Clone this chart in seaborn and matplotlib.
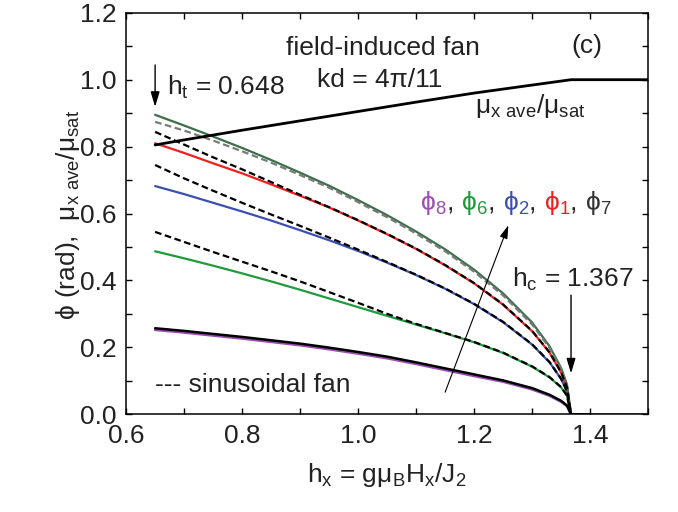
import numpy as np
import pandas as pd
import matplotlib
matplotlib.use("Agg")
import matplotlib.pyplot as plt
import seaborn as sns
from matplotlib.ticker import MultipleLocator
from matplotlib.offsetbox import TextArea, HPacker, AnnotationBbox

# ---------------- data ----------------
h = [0.65, 0.70, 0.75, 0.80, 0.85, 0.90, 0.95, 1.00, 1.05, 1.10, 1.15,
     1.20, 1.25, 1.30, 1.33, 1.35, 1.36, 1.367]

phi7 = [0.895, 0.863, 0.830, 0.796, 0.760, 0.722, 0.683, 0.640, 0.595, 0.546,
        0.493, 0.432, 0.361, 0.274, 0.203, 0.138, 0.089, 0.0]
phi7_sin = [0.874, 0.848, 0.818, 0.786, 0.752, 0.715, 0.677, 0.634, 0.589, 0.540,
            0.487, 0.426, 0.355, 0.268, 0.198, 0.134, 0.086, 0.0]
phi1 = [0.810, 0.781, 0.750, 0.720, 0.687, 0.653, 0.618, 0.579, 0.538, 0.494,
        0.445, 0.391, 0.327, 0.248, 0.184, 0.124, 0.080, 0.0]
phi1_sin = [0.844, 0.806, 0.768, 0.732, 0.694, 0.656, 0.619, 0.580, 0.539, 0.495,
            0.446, 0.392, 0.328, 0.249, 0.185, 0.125, 0.081, 0.0]
phi2 = [0.682, 0.658, 0.632, 0.606, 0.579, 0.550, 0.520, 0.488, 0.453, 0.416,
        0.375, 0.329, 0.275, 0.208, 0.155, 0.105, 0.068, 0.0]
phi2_sin = [0.745, 0.705, 0.668, 0.632, 0.597, 0.563, 0.528, 0.492, 0.455, 0.417,
            0.376, 0.330, 0.276, 0.209, 0.156, 0.106, 0.069, 0.0]
phi6 = [0.487, 0.466, 0.444, 0.421, 0.397, 0.372, 0.346, 0.320, 0.294, 0.268,
        0.242, 0.215, 0.183, 0.142, 0.110, 0.080, 0.055, 0.0]
phi6_sin = [0.545, 0.515, 0.485, 0.456, 0.427, 0.397, 0.365, 0.333, 0.300, 0.270,
            0.243, 0.216, 0.184, 0.143, 0.111, 0.081, 0.056, 0.0]
phi8_sin = [0.257, 0.249, 0.240, 0.231, 0.221, 0.211, 0.199, 0.186, 0.172, 0.155,
            0.137, 0.119, 0.101, 0.078, 0.058, 0.040, 0.026, 0.0]
phi8 = [0.252, 0.244, 0.235, 0.226, 0.216, 0.206, 0.194, 0.181, 0.167, 0.150,
        0.132, 0.114, 0.097, 0.074, 0.055, 0.037, 0.024, 0.0]

h_tail_black = [1.367, 1.40]
v_tail_black = [0.0, 0.0]
h_tail_purple = [1.367, 1.50]
v_tail_purple = [0.0, 0.0]

h_mu = [0.65, 0.70, 0.80, 0.90, 1.00, 1.10, 1.20, 1.30, 1.367, 1.50]
mu_ratio = [0.805, 0.820, 0.849, 0.877, 0.905, 0.933, 0.960, 0.984, 1.0, 1.0]

xtick_vals = [0.6, 0.8, 1.0, 1.2, 1.4]
xtick_labels = ['0.6', '0.8', '1.0', '1.2', '1.4']
ytick_vals = [0.0, 0.2, 0.4, 0.6, 0.8, 1.0, 1.2]
ytick_labels = ['0.0', '0.2', '0.4', '0.6', '0.8', '1.0', '1.2']

# ---------------- style ----------------
sns.set_style("ticks")
plt.rcParams['font.family'] = ['Liberation Sans', 'DejaVu Sans']
plt.rcParams['mathtext.default'] = 'regular'
FS = 19

fig = plt.figure(figsize=(6.78, 5.12), dpi=100)
ax = fig.add_axes([0.186, 0.191, 0.770, 0.784])

purple = '#9b4fb0'
green = '#1f9a3c'
blue = '#3a4fb0'
red = '#f02020'
dgreen = '#3b7048'
gray = '#7a7a7a'
DASH = (3, 1.6)

def line(x, y, color, lw=1.6, dashes=None, z=2):
    df = pd.DataFrame({'h': x, 'v': y})
    sns.lineplot(data=df, x='h', y='v', ax=ax, color=color, lw=lw,
                 sort=False, estimator=None, zorder=z)
    ln = ax.get_lines()[-1]
    if dashes is not None:
        ln.set_dashes(dashes)
    return ln

line(h_tail_purple, v_tail_purple, purple, lw=1.8)
line(h, phi8, purple, lw=1.8)
line(h, phi6, green)
line(h, phi2, blue)
line(h, phi1, red)
line(h, phi7, dgreen)
line(h, phi7_sin, gray, dashes=DASH, z=3)
line(h, phi1_sin, 'black', dashes=DASH, z=3)
line(h, phi2_sin, 'black', dashes=DASH, z=3)
line(h, phi6_sin, 'black', dashes=DASH, z=3)
line(h, phi8_sin, 'black', lw=1.8, z=3)
line(h_tail_black, v_tail_black, 'black', lw=2.0, z=3)
line(h_mu, mu_ratio, 'black', lw=2.0, z=3)

ax.set_xlim(0.6, 1.5)
ax.set_ylim(0.0, 1.2)
ax.set_xticks(xtick_vals)
ax.set_xticklabels(xtick_labels)
ax.set_yticks(ytick_vals)
ax.set_yticklabels(ytick_labels)
ax.xaxis.set_minor_locator(MultipleLocator(0.1))
ax.yaxis.set_minor_locator(MultipleLocator(0.1))
ax.tick_params(which='both', direction='in', top=True, right=True,
               length=4, width=1, color='black', labelsize=FS, pad=7,
               labelcolor='#222222')
for s in ax.spines.values():
    s.set_linewidth(1.1)
    s.set_color('black')
ax.set_xlabel('')
ax.set_ylabel('')

tc = '#222222'
fig.text(387 / 678, 1 - 482 / 512, r'h$_x$ = gμ$_B$H$_x$/J$_2$', fontsize=FS,
         ha='center', va='baseline', color=tc)
fig.text(68 / 678, 1 - 215 / 512, r'ϕ (rad),  μ$_{x\ ave}$/μ$_{sat}$',
         fontsize=FS, rotation=90, ha='center', va='center', color=tc)

ax.text(1.043, 1.074, 'field-induced fan', fontsize=FS, ha='center',
        va='baseline', color=tc)
ax.text(1.038, 0.979, 'kd = 4π/11', fontsize=FS, ha='center', va='baseline',
        color=tc)
ax.text(1.395, 1.080, '(c)', fontsize=FS, ha='center', va='baseline', color=tc)
ax.text(0.671, 0.955, r'h$_t$ = 0.648', fontsize=FS, ha='left', va='baseline',
        color=tc)
ax.text(1.202, 0.900, r'μ$_{x\ ave}$/μ$_{sat}$', fontsize=FS, ha='left',
        va='baseline', color=tc)
ax.text(1.266, 0.380, r'h$_c$ = 1.367', fontsize=FS, ha='left', va='baseline',
        color=tc)
ax.text(0.650, 0.066, '--- sinusoidal fan', fontsize=FS, ha='left',
        va='baseline', color=tc)

# coloured phi legend
items = [('ϕ$_8$', purple), (', ', tc), ('ϕ$_6$', green), (', ', tc),
         ('ϕ$_2$', blue), (', ', tc), ('ϕ$_1$', red), (', ', tc),
         ('ϕ$_7$', '#333333')]
areas = [TextArea(t, textprops=dict(color=c, fontsize=FS)) for t, c in items]
pack = HPacker(children=areas, align='baseline', pad=0, sep=0)
ab = AnnotationBbox(pack, (1.107, 0.630), xycoords='data', frameon=False,
                    box_alignment=(0.0, 0.5), pad=0)
ax.add_artist(ab)

arr = dict(arrowstyle='-|>,head_length=0.5,head_width=0.15', color='black',
           lw=1.0, mutation_scale=18, shrinkA=0, shrinkB=0)
ax.annotate('', xy=(0.650, 0.919), xytext=(0.650, 1.044), arrowprops=arr)
ax.annotate('', xy=(1.367, 0.122), xytext=(1.367, 0.356), arrowprops=arr)
arr2 = dict(arrowstyle='-|>,head_length=0.5,head_width=0.15', color='black',
            lw=0.8, mutation_scale=16, shrinkA=0, shrinkB=0)
ax.annotate('', xy=(1.259, 0.565), xytext=(1.150, 0.066), arrowprops=arr2)

fig.savefig('out.png', dpi=100)
